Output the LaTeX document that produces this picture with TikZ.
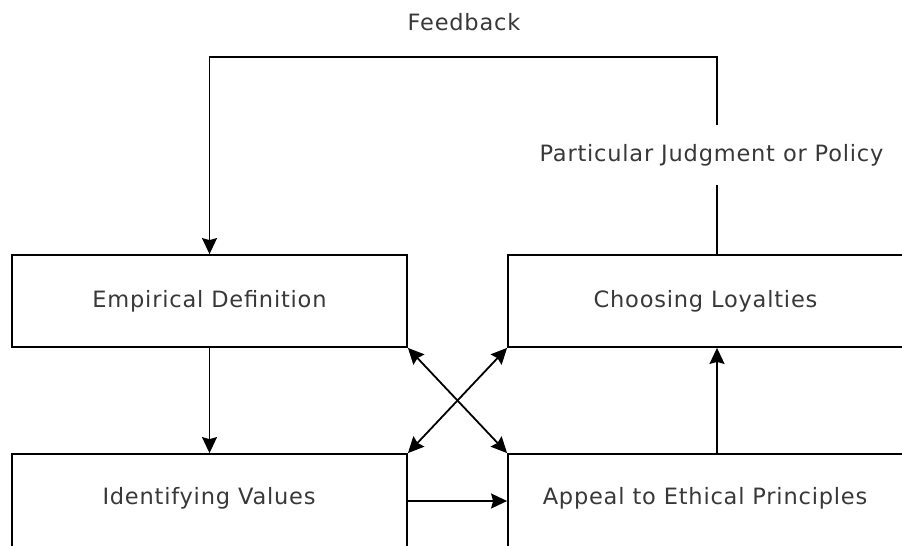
\documentclass[tikz,border=0pt]{standalone}
\usepackage{fontspec}
\setmainfont[LetterSpace=3.5]{DejaVu Sans}
\usetikzlibrary{arrows.meta}
\begin{document}
\begin{tikzpicture}[x=1pt,y=-1pt,line width=1.8pt,
  txt/.style={font=\fontsize{22.5}{26}\selectfont,text=black!78},
  box/.style={draw,txt,minimum width=395pt,inner sep=0pt},
  topbox/.style={box,minimum height=92pt},
  botbox/.style={box,minimum height=94pt},
  lbl/.style={txt,inner sep=0pt},
  arr/.style={-{Stealth[length=16pt,width=15pt,inset=2pt]}},
  darr/.style={{Stealth[length=16pt,width=15pt,inset=2pt]}-{Stealth[length=16pt,width=15pt,inset=2pt]}}]
\useasboundingbox (0,0) rectangle (902,546);
\clip (0,0) rectangle (902,546);
\node[topbox] (ed) at (209.5,301) {Empirical Definition};
\node[topbox] (cl) at (705.5,301) {Choosing Loyalties};
\node[botbox] (iv) at (209.5,501) {};
\node[botbox] (ap) at (705.5,501) {};
\node[lbl] (ivt) at (209,498) {Identifying Values};
\node[lbl] (apt) at (705,498) {Appeal to Ethical Principles};
\node[lbl] (fb) at (464,22) {Feedback};
\node[lbl,minimum height=58pt] (pj) at (711.5,155) {Particular Judgment or Policy};
\coordinate (top) at (717,57);
\draw[arr] (ed.south) -- (iv.north);
\draw[arr] (ap.north -| top) -- (cl.south -| top);
\draw[arr] (iv.east) -- (ap.west);
\draw[darr] (ed.south east) -- (ap.north west);
\draw[darr] (cl.south west) -- (iv.north east);
\draw (cl.north -| top) -- (pj.south -| top);
\draw[arr] (pj.north -| top) -- (top) -| (ed.north);
\end{tikzpicture}
\end{document}
